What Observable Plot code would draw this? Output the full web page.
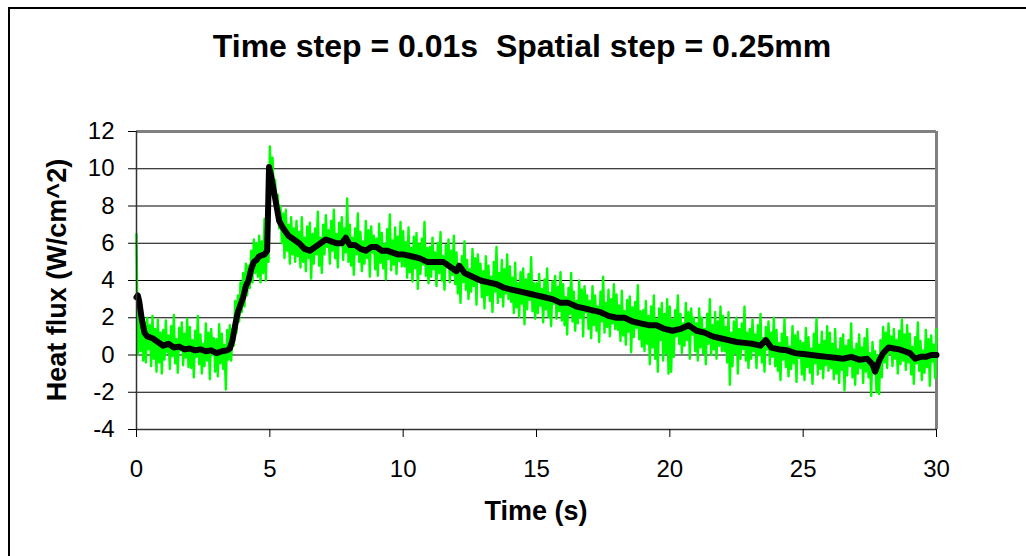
<!DOCTYPE html>
<html>
<head>
<meta charset="utf-8">
<script src="https://cdn.jsdelivr.net/npm/d3@7"></script>
<script src="https://cdn.jsdelivr.net/npm/@observablehq/plot@0.6"></script>
<style>
  html, body { margin: 0; padding: 0; background: #fff; }
  #wrap { position: relative; width: 1026px; height: 556px; overflow: hidden; font-family: "Liberation Sans", Arial, sans-serif; }
  #frame { position: absolute; left: 8px; top: 7px; width: 1040px; height: 570px; border: 2px solid #000; box-sizing: border-box; }
  #chart { position: absolute; left: 0; top: 0; }
  .lbl { position: absolute; font-weight: bold; color: #000; white-space: nowrap; line-height: 1; }
  #title { font-size: 32px; left: 0; width: 1044px; text-align: center; top: 30px; }
  #xlabel { font-size: 27px; left: 0; width: 1072px; text-align: center; top: 498px; }
  #ylabel { font-size: 27px; left: 44px; top: 280px; transform-origin: 0 0; transform: rotate(-90deg) translate(-50%, 0); }
</style>
</head>
<body>
<div id="wrap">
  <div id="frame"></div>
  <div id="chart"></div>
  <div id="title" class="lbl">Time step = 0.01s&nbsp;&nbsp;Spatial step = 0.25mm</div>
  <div id="xlabel" class="lbl">Time (s)</div>
  <div id="ylabel" class="lbl">Heat flux (W/cm^2)</div>
</div>
<script>
// Axis ticks
const xTicks = [0, 5, 10, 15, 20, 25, 30];
const yTicks = [-4, -2, 0, 2, 4, 6, 8, 10, 12];
const gridLines = [-2, 0, 2, 4, 6, 8, 10];

// Smoothed heat flux (black): times (s) and values (W/cm^2)
const blackT = [0.0, 0.05, 0.1, 0.2, 0.3, 0.4, 0.6, 0.8, 1.0, 1.2, 1.4, 1.6, 1.8, 2.0, 2.2, 2.4, 2.6, 2.8, 3.0, 3.2, 3.4, 3.5, 3.6, 3.7, 3.8, 4.0, 4.1, 4.2, 4.3, 4.4, 4.5, 4.6, 4.7, 4.8, 4.9, 4.97, 5.05, 5.2, 5.35, 5.5, 5.7, 5.9, 6.1, 6.3, 6.5, 6.7, 6.9, 7.1, 7.3, 7.5, 7.7, 7.85, 8.0, 8.2, 8.4, 8.6, 8.8, 9.0, 9.2, 9.4, 9.6, 9.8, 10.0, 10.3, 10.6, 10.9, 11.2, 11.5, 11.8, 12.0, 12.1, 12.3, 12.6, 12.9, 13.2, 13.5, 13.8, 14.1, 14.4, 14.7, 15.0, 15.3, 15.6, 15.9, 16.2, 16.5, 16.8, 17.1, 17.4, 17.7, 18.0, 18.3, 18.6, 18.9, 19.2, 19.5, 19.8, 20.1, 20.4, 20.7, 21.0, 21.3, 21.6, 21.9, 22.2, 22.5, 22.8, 23.1, 23.4, 23.6, 23.8, 24.1, 24.4, 24.7, 25.0, 25.3, 25.6, 25.9, 26.2, 26.5, 26.8, 27.1, 27.4, 27.6, 27.7, 27.85, 28.0, 28.2, 28.4, 28.6, 28.8, 29.0, 29.2, 29.4, 29.6, 29.8, 30.0];
const blackV = [3.1, 3.2, 2.9, 1.9, 1.2, 1.0, 0.9, 0.7, 0.5, 0.6, 0.4, 0.45, 0.3, 0.35, 0.25, 0.3, 0.2, 0.25, 0.1, 0.2, 0.25, 0.35, 0.8, 1.6, 2.3, 3.1, 3.7, 4.0, 4.6, 5.0, 5.1, 5.3, 5.35, 5.4, 5.6, 10.1, 9.6, 8.4, 7.2, 6.8, 6.4, 6.2, 6.0, 5.7, 5.6, 5.8, 6.0, 6.2, 6.1, 6.0, 6.0, 6.3, 5.9, 5.9, 5.7, 5.6, 5.8, 5.8, 5.6, 5.6, 5.5, 5.4, 5.4, 5.3, 5.2, 5.0, 5.0, 5.0, 4.7, 4.5, 4.8, 4.4, 4.2, 4.0, 3.9, 3.8, 3.6, 3.5, 3.4, 3.3, 3.2, 3.1, 3.0, 2.8, 2.8, 2.6, 2.5, 2.4, 2.3, 2.1, 2.0, 2.0, 1.8, 1.7, 1.6, 1.6, 1.4, 1.3, 1.4, 1.6, 1.3, 1.2, 1.0, 0.9, 0.8, 0.7, 0.65, 0.6, 0.5, 0.8, 0.4, 0.3, 0.25, 0.1, 0.05, 0.0, -0.05, -0.1, -0.15, -0.2, -0.1, -0.25, -0.2, -0.5, -0.9, -0.3, 0.1, 0.4, 0.35, 0.3, 0.2, 0.1, -0.2, -0.1, -0.1, 0.0, 0.0];

// Raw heat flux (green), one reading every 0.05 s from 0 to 30 s (one row per second)
const greenStep = 0.05;
const greenV = [
  6.5, 0.0, 3.0, 0.2, 2.4, -0.3, 1.8, -0.4, 2.0, 0.3, 1.6, -0.6, 2.1, -0.2, 1.4, -0.9, 1.9, -0.4, 1.2, -1.0,
  1.35, -0.25, 1.85, 0.15, 1.05, -0.75, 1.55, -0.05, 2.15, -0.45, 0.85, -0.95, 1.45, 0.25, 1.75, -0.55, 1.15, -0.15, 1.95, -0.65,
  1.5, -0.7, 0.8, -1.2, 1.3, -0.1, 2.1, -0.5, 1.1, -1.0, 0.6, -0.6, 1.7, -0.3, 1.2, -1.3, 1.4, 0.0, 0.9, -0.9,
  0.85, -1.15, 1.65, -0.45, 1.15, -0.75, 0.55, -1.85, 1.35, -0.25, 1.6, -0.3, 1.4, 0.5, 2.9, 1.2, 3.2, 1.8, 3.9, 2.3,
  4.4, 2.6, 4.9, 3.2, 4.8, 3.6, 5.6, 3.9, 6.2, 4.4, 6.0, 4.2, 6.4, 3.9, 6.1, 4.4, 7.3, 4.0, 6.2, 5.0,
  11.2, 9.4, 10.6, 8.8, 9.4, 7.6, 8.6, 6.8, 8.0, 6.0, 7.6, 5.2, 7.8, 5.6, 7.0, 4.9, 7.4, 5.4, 6.8, 5.0,
  7.2, 5.3, 6.6, 4.7, 7.4, 5.0, 6.3, 4.5, 6.9, 5.2, 7.1, 4.1, 6.5, 4.9, 6.8, 5.4, 7.7, 4.8, 6.3, 4.4,
  7.0, 5.4, 7.5, 5.8, 6.7, 4.9, 7.2, 5.6, 7.8, 5.2, 6.5, 4.7, 7.1, 5.9, 7.4, 5.1, 6.8, 5.5, 8.4, 5.0,
  7.0, 4.8, 6.3, 4.3, 6.8, 5.4, 7.6, 5.0, 6.6, 4.5, 6.1, 4.9, 7.2, 5.2, 6.7, 4.2, 6.9, 5.5, 6.4, 4.6,
  6.25, 4.25, 7.05, 4.95, 6.55, 4.65, 5.95, 4.05, 6.75, 5.15, 7.55, 4.55, 6.15, 4.85, 6.85, 4.35, 6.35, 5.05, 7.15, 4.75,
  6.65, 4.75, 6.05, 4.15, 6.85, 4.45, 5.75, 3.95, 6.35, 4.65, 6.55, 3.55, 5.95, 4.35, 6.25, 4.85, 7.15, 4.25, 5.75, 3.85,
  5.8, 4.2, 6.3, 4.6, 5.5, 3.7, 6.0, 4.4, 6.6, 4.0, 5.3, 3.5, 5.9, 4.7, 6.2, 3.9, 5.6, 4.3, 6.4, 3.8,
  5.5, 3.3, 4.8, 2.8, 5.3, 3.9, 6.1, 3.5, 5.1, 3.0, 4.6, 3.4, 5.7, 3.7, 5.2, 2.7, 5.4, 4.0, 4.9, 3.1,
  4.5, 2.5, 5.3, 3.2, 4.8, 2.9, 4.2, 2.3, 5.0, 3.4, 5.8, 2.8, 4.4, 3.1, 5.1, 2.6, 4.6, 3.3, 5.4, 3.0,
  4.75, 2.85, 4.15, 2.25, 4.95, 2.55, 3.85, 2.05, 4.45, 2.75, 4.65, 1.65, 4.05, 2.45, 4.35, 2.95, 5.25, 2.35, 3.85, 1.95,
  3.85, 2.25, 4.35, 2.65, 3.55, 1.75, 4.05, 2.45, 4.65, 2.05, 3.35, 1.55, 3.95, 2.75, 4.25, 1.95, 3.65, 2.35, 4.45, 1.85,
  3.8, 1.6, 3.1, 1.1, 3.6, 2.2, 4.4, 1.8, 3.4, 1.3, 2.9, 1.7, 4.0, 2.0, 3.5, 1.0, 3.7, 2.3, 3.2, 1.4,
  2.9, 0.9, 3.7, 1.6, 3.2, 1.3, 2.6, 0.7, 3.4, 1.8, 4.2, 1.2, 2.8, 1.5, 3.5, 1.0, 3.0, 1.7, 3.8, 1.4,
  3.25, 1.35, 2.65, 0.75, 3.45, 1.05, 2.35, 0.55, 2.95, 1.25, 3.15, 0.15, 2.55, 0.95, 2.85, 1.45, 3.75, 0.85, 2.35, 0.45,
  2.4, 0.2, 2.9, 0.6, 2.1, -0.5, 2.6, 0.4, 3.2, -0.2, 1.9, -0.9, 2.5, 0.8, 2.8, -0.3, 2.2, 0.1, 3.0, -1.0,
  2.6, -0.9, 1.9, -0.1, 2.4, 1.0, 3.2, 0.6, 2.2, 0.1, 1.7, 0.5, 2.8, 0.8, 2.3, -0.2, 2.5, 1.1, 2.0, 0.2,
  1.7, -0.3, 2.5, 0.4, 2.0, 0.1, 1.4, -0.5, 2.2, 0.6, 3.0, 0.0, 1.6, 0.3, 2.3, -0.2, 1.8, 0.5, 2.6, 0.2,
  2.1, 0.2, 1.5, -0.4, 2.3, -1.6, 1.2, -0.6, 1.8, 0.1, 2.0, -1.0, 1.4, -0.2, 1.7, 0.3, 2.6, -0.3, 1.2, -0.7,
  1.4, -0.2, 1.9, 0.2, 1.1, -0.7, 1.6, 0.0, 2.2, -0.4, 0.9, -0.9, 1.5, 0.3, 1.8, -0.5, 1.2, -0.1, 2.0, -0.6,
  1.35, -0.85, 0.65, -1.35, 1.15, -0.25, 1.95, -0.65, 0.95, -1.15, 0.45, -0.75, 1.55, -0.45, 1.05, -1.45, 1.25, -0.15, 0.75, -1.05,
  0.65, -1.35, 1.45, -0.65, 0.95, -0.95, 0.35, -1.55, 1.15, -0.45, 1.95, -1.05, 0.55, -0.75, 1.25, -1.25, 0.75, -0.55, 1.55, -0.85,
  1.2, -0.7, 0.6, -1.3, 1.4, -1.0, 0.3, -1.5, 0.9, -0.8, 1.1, -1.9, 0.5, -1.1, 0.8, -0.6, 1.7, -1.2, 0.3, -1.6,
  0.6, -1.0, 1.1, -0.7, 0.4, -1.5, 0.9, -0.9, 1.4, -1.2, 0.1, -2.2, 0.7, -0.5, 0.2, -2.0, 0.0, -2.1, 0.8, -1.2,
  1.5, -0.4, 1.2, -0.7, 1.7, 0.1, 1.0, -0.6, 1.4, -0.2, 0.8, -1.0, 1.3, -0.5, 1.9, -0.3, 1.1, -0.8, 1.6, -0.4,
  1.15, -1.05, 0.45, -1.55, 0.95, -0.45, 1.75, -0.85, 0.75, -1.35, 0.25, -0.95, 1.35, -0.65, 0.85, -1.65, 1.05, -0.35, 0.55, -1.25,
  1.4
];

const black = blackT.map((t, i) => ({t, v: blackV[i]}));
const green = greenV.map((v, i) => ({t: +(i * greenStep).toFixed(3), v}));

const chart = Plot.plot({
  width: 1026,
  height: 556,
  marginLeft: 136,
  marginRight: 90,
  marginTop: 131,
  marginBottom: 127,
  style: {fontFamily: '"Liberation Sans", Arial, sans-serif', background: "transparent", color: "#000"},
  x: {domain: [0, 30]},
  y: {domain: [-4, 12]},
  marks: [
    Plot.ruleY(gridLines, {stroke: "#000", strokeWidth: 1.2}),
    Plot.ruleY([12], {stroke: "#808080", strokeWidth: 3}),
    Plot.ruleX([30], {stroke: "#808080", strokeWidth: 3}),
    Plot.line(green, {x: "t", y: "v", stroke: "#00ff00", strokeWidth: 2.4}),
    Plot.line(black, {x: "t", y: "v", stroke: "#000", strokeWidth: 6, strokeLinejoin: "round"}),
    Plot.ruleX([0], {stroke: "#333", strokeWidth: 1.5}),
    Plot.ruleY([-4], {stroke: "#333", strokeWidth: 1.5}),
    Plot.axisX({ticks: xTicks, tickSize: 8, tickPadding: 22, fontSize: 24, label: null, tickFormat: d => String(d), stroke: "#000"}),
    Plot.axisY({ticks: yTicks, tickSize: 8, tickPadding: 14, fontSize: 24, label: null, tickFormat: d => String(d), stroke: "#000"})
  ]
});
document.getElementById("chart").appendChild(chart);
</script>
</body>
</html>
